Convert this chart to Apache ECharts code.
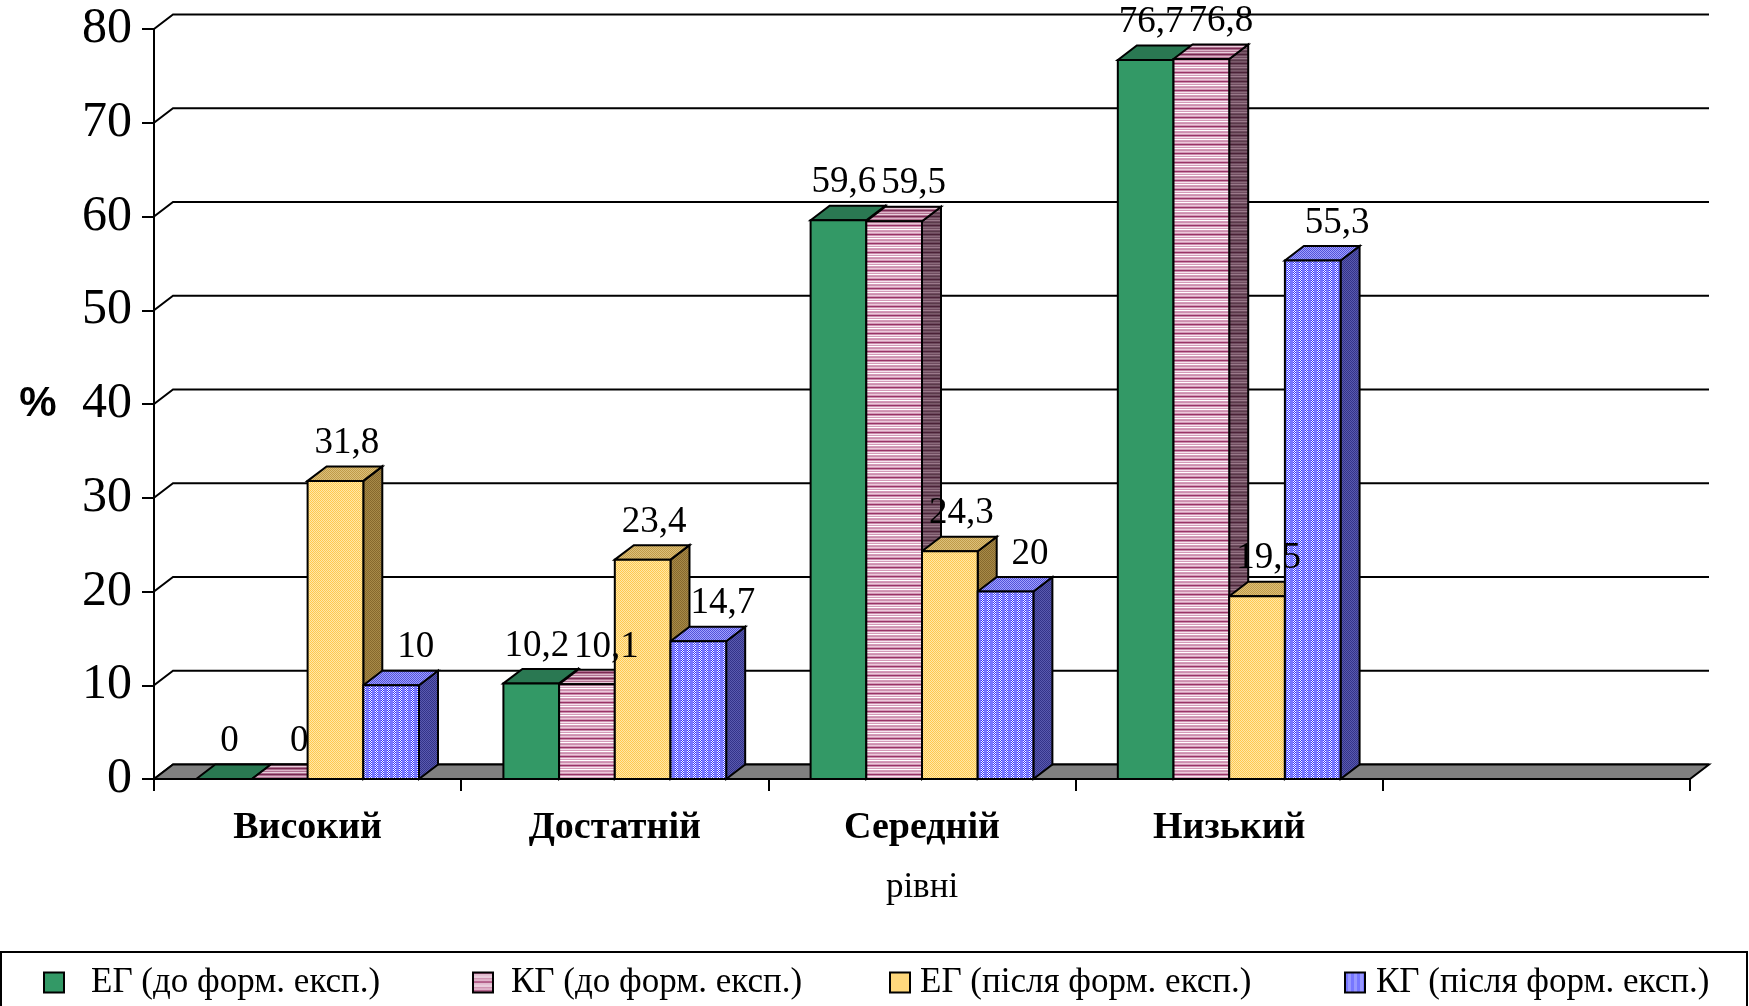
<!DOCTYPE html>
<html>
<head>
<meta charset="utf-8">
<title>Рівні</title>
<script src="https://cdn.jsdelivr.net/npm/echarts@6/dist/echarts.min.js"></script>
<style>
  html, body { margin: 0; padding: 0; background: #fff; }
  #chart { width: 1749px; height: 1006px; }
</style>
</head>
<body>
<div id="chart"></div>
<script>
// ---- data ----
const CATEGORIES = ['Високий', 'Достатній', 'Середній', 'Низький', ''];
const SERIES_NAMES = ['ЕГ (до форм. експ.)', 'КГ (до форм. експ.)', 'ЕГ (після форм. експ.)', 'КГ (після форм. експ.)'];
const EG_BEFORE = [0, 10.2, 59.6, 76.7];
const KG_BEFORE = [0, 10.1, 59.5, 76.8];
const EG_AFTER = [31.8, 23.4, 24.3, 19.5];
const KG_AFTER = [10, 14.7, 20, 55.3];
const Y_TICKS = [0, 10, 20, 30, 40, 50, 60, 70, 80];

const SERIF = '"Liberation Serif", "Times New Roman", serif';
const DX = 19;      // depth offset of the 3D box, to the right
const DY = 14.5;    // depth offset, upwards
const BAR_RATIO = 0.1813; // one bar's width as share of a category band
const LABEL_SHIFT = [-4, 10, 2, 15]; // horizontal nudge of value labels per series

// ---- fill patterns ----
function pattern(w, h, paint) {
  const c = document.createElement('canvas');
  c.width = w; c.height = h;
  paint(c.getContext('2d'), w, h);
  return { image: c, repeat: 'repeat' };
}
function stripes(rows) {
  return pattern(1, rows.length, (g) => {
    rows.forEach((col, i) => { g.fillStyle = col; g.fillRect(0, i, 1, 1); });
  });
}
function checker(a, b, size) {
  return pattern(size, size, (g, w, h) => {
    for (let x = 0; x < w; x++) for (let y = 0; y < h; y++) {
      g.fillStyle = (x + y) % 2 === 0 ? a : b;
      g.fillRect(x, y, 1, 1);
    }
  });
}
function blueWeave(solid, a, b) {
  return pattern(6, 2, (g) => {
    for (let x = 0; x < 6; x++) for (let y = 0; y < 2; y++) {
      g.fillStyle = x < 3 ? solid : ((x + y) % 2 === 0 ? a : b);
      g.fillRect(x, y, 1, 1);
    }
  });
}

const FILLS = [
  { front: '#339966', top: '#2a7852', side: '#1f5e3f' },
  {
    front: stripes(['#993366', '#cc8fae', '#f6e4ee', '#d49ab8', '#ffffff', '#d49ab8', '#cc8fae', '#ecc8da', '#d49ab8']),
    top: stripes(['#7a2a52', '#b07090', '#dcb4c8', '#b07090', '#e8cedb', '#b07090']),
    side: stripes(['#4a2236', '#6e4a5e', '#8a6a7a', '#6e4a5e', '#9a7a8a', '#6e4a5e', '#5a3a4a', '#7a5a6a', '#6e4a5e'])
  },
  {
    front: checker('#ffc850', '#ffe8a8', 4),
    top: checker('#c09a48', '#dcc07a', 4),
    side: checker('#86692e', '#a88a48', 4)
  },
  {
    front: blueWeave('#7777ff', '#ffffff', '#3030ff'),
    top: checker('#5252d8', '#a0a0ff', 4),
    side: checker('#333388', '#5a5ab0', 4)
  }
];

const SERIES_DATA = [EG_BEFORE, KG_BEFORE, EG_AFTER, KG_AFTER];

function fmt(v) { return String(v).replace('.', ','); }

// One 3D box (front, top, side) plus its value label.
function makeBarRenderer(si) {
  return function (params, api) {
    const cs = params.coordSys;
    const idx = api.value(0);
    const val = api.value(1);
    const bandW = cs.width / CATEGORIES.length;
    const barW = bandW * BAR_RATIO;
    const base = api.coord([idx, 0]);
    const topPt = api.coord([idx, val]);
    const x0 = base[0] - 2 * barW + si * barW;
    const x1 = x0 + barW;
    const yb = base[1];
    const yt = topPt[1];
    const f = FILLS[si];
    const line = { stroke: '#000', lineWidth: 2, lineJoin: 'miter' };
    return {
      type: 'group',
      children: [
        {
          type: 'polygon', z2: 1,
          shape: { points: [[x1, yt], [x1 + DX, yt - DY], [x1 + DX, yb - DY], [x1, yb]] },
          style: Object.assign({ fill: f.side }, line)
        },
        {
          type: 'polygon', z2: 2,
          shape: { points: [[x0, yt], [x0 + DX, yt - DY], [x1 + DX, yt - DY], [x1, yt]] },
          style: Object.assign({ fill: f.top }, line)
        },
        {
          type: 'rect', z2: 3,
          shape: { x: x0, y: yt, width: barW, height: yb - yt },
          style: Object.assign({ fill: f.front }, line)
        },
        {
          type: 'text', z2: 100,
          style: {
            text: fmt(val),
            x: x0 + barW / 2 + DX / 2 + LABEL_SHIFT[si],
            y: yt - DY - 23,
            align: 'center',
            verticalAlign: 'middle',
            font: '37px ' + SERIF,
            fill: '#000'
          }
        }
      ]
    };
  };
}

// Back-wall gridlines of the 3D plot area.
function renderGridline(params, api) {
  const cs = params.coordSys;
  const y = api.coord([0, api.value(1)])[1];
  return {
    type: 'polyline',
    shape: { points: [[cs.x, y], [cs.x + DX, y - DY], [cs.x + cs.width + DX, y - DY]] },
    style: { stroke: '#000', lineWidth: 2, fill: null }
  };
}

// Grey floor plate under the bars.
function renderFloor(params, api) {
  const cs = params.coordSys;
  const y = api.coord([0, 0])[1];
  return {
    type: 'polygon',
    shape: { points: [[cs.x, y], [cs.x + DX, y - DY], [cs.x + cs.width + DX, y - DY], [cs.x + cs.width, y]] },
    style: { fill: '#808080', stroke: '#000', lineWidth: 2 }
  };
}

const barSeries = SERIES_DATA.map((vals, si) => ({
  type: 'custom',
  name: SERIES_NAMES[si],
  renderItem: makeBarRenderer(si),
  encode: { x: 0, y: 1 },
  itemStyle: { color: FILLS[si].front },
  data: vals.map((v, i) => [i, v]),
  z: 3
}));

const legendX = [38, 467, 884, 1339];
const legendGap = [27, 18, 10, 11];

const option = {
  backgroundColor: '#fff',
  animation: false,
  grid: {
    left: 154, right: 59, top: 29, bottom: 227,
    containLabel: false,
    outerBoundsMode: 'none'
  },
  xAxis: {
    type: 'category',
    data: CATEGORIES,
    boundaryGap: true,
    name: 'рівні',
    nameLocation: 'middle',
    nameGap: 91,
    nameTextStyle: { fontFamily: SERIF, fontSize: 35, color: '#000' },
    axisLine: { show: true, lineStyle: { color: '#000', width: 2 } },
    axisTick: { show: true, length: 12, lineStyle: { color: '#000', width: 2 } },
    axisLabel: {
      margin: 30, interval: 0,
      fontFamily: SERIF, fontSize: 38, fontWeight: 'bold', color: '#000'
    },
    splitLine: { show: false }
  },
  yAxis: {
    type: 'value',
    min: 0, max: 80, interval: 10,
    name: '%',
    nameLocation: 'middle',
    nameRotate: 0,
    nameGap: 116,
    nameTextStyle: {
      fontFamily: '"Liberation Sans", Arial, sans-serif', fontSize: 42, fontWeight: 'bold',
      color: '#000', align: 'center', verticalAlign: 'middle', padding: [10, 0, 0, 0]
    },
    axisLine: { show: true, lineStyle: { color: '#000', width: 2 } },
    axisTick: { show: true, length: 12, lineStyle: { color: '#000', width: 2 } },
    axisLabel: {
      margin: 22,
      fontFamily: SERIF, fontSize: 50, color: '#000'
    },
    splitLine: { show: false }
  },
  legend: SERIES_NAMES.map((name, i) => ({
    left: legendX[i],
    top: 960,
    icon: 'rect',
    itemWidth: 20,
    itemHeight: 20,
    selectedMode: false,
    data: [{
      name: name,
      itemStyle: { color: FILLS[i].front, borderColor: '#000', borderWidth: 2 }
    }],
    textStyle: {
      fontFamily: SERIF, fontSize: 35, color: '#000',
      padding: [0, 0, 0, legendGap[i] - 5]
    }
  })),
  graphic: [{
    type: 'rect',
    shape: { x: 1, y: 952, width: 1746, height: 80 },
    style: { fill: null, stroke: '#000', lineWidth: 2 },
    z: -1
  }],
  series: [
    {
      type: 'custom',
      renderItem: renderGridline,
      encode: { x: 0, y: 1 },
      data: Y_TICKS.map((t) => [0, t]),
      silent: true,
      z: 1
    },
    {
      type: 'custom',
      renderItem: renderFloor,
      encode: { x: 0, y: 1 },
      data: [[0, 0]],
      silent: true,
      z: 2
    }
  ].concat(barSeries)
};

const chart = echarts.init(document.getElementById('chart'), null, { renderer: 'canvas' });
chart.setOption(option);
</script>
</body>
</html>
